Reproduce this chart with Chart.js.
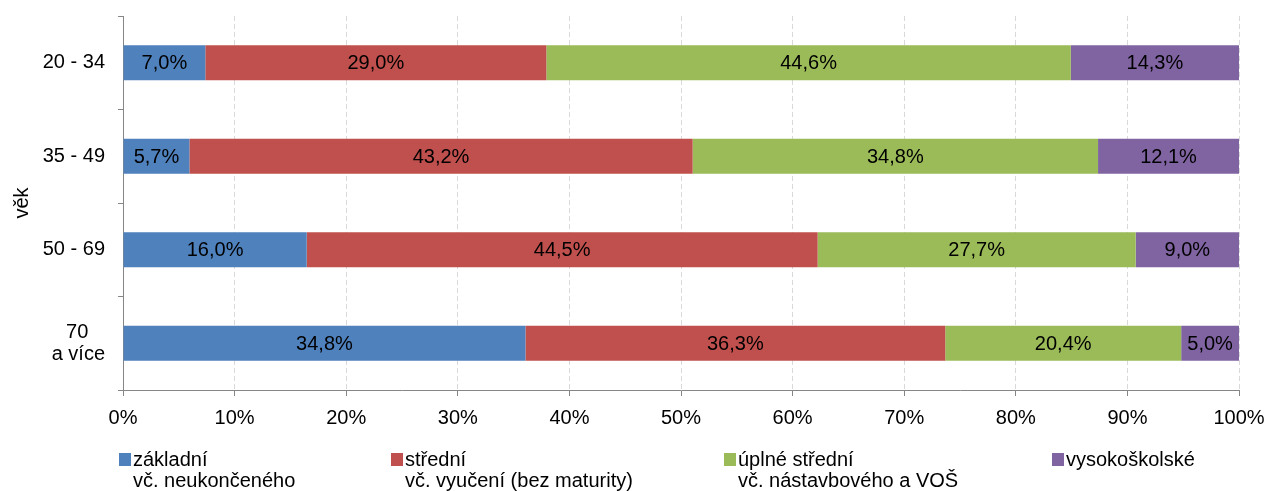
<!DOCTYPE html>
<html>
<head>
<meta charset="utf-8">
<script src="https://cdn.jsdelivr.net/npm/chart.js@4.4.1/dist/chart.umd.min.js"></script>
<style>
    html, body { margin: 0; padding: 0; background: #fff; }
    .wrap { width: 1268px; height: 491px; }
</style>
</head>
<body>
<div class="wrap"><canvas id="eduChart" width="1268" height="491"></canvas></div>
<script>
// age groups (the last label is two lines, padded so "70" sits centred over "a více")
const ages = ['20 - 34', '35 - 49', '50 - 69', ['70\u00a0\u00a0\u00a0', 'a více']];

// shares as printed on the bars (%)
const zakladni = [7.0, 5.7, 16.0, 34.8];
const stredni = [29.0, 43.2, 44.5, 36.3];
const uplneStredni = [44.6, 34.8, 27.7, 20.4];
const vysokoskolske = [14.3, 12.1, 9.0, 5.0];

const seriesNames = [
    ['základní', 'vč. neukončeného'],
    ['střední', 'vč. vyučení (bez maturity)'],
    ['úplné střední', 'vč. nástavbového a VOŠ'],
    ['vysokoškolské']
];
const seriesColors = ['#4F81BD', '#C0504D', '#9BBB59', '#8064A2'];

const xTicks = [0, 10, 20, 30, 40, 50, 60, 70, 80, 90, 100];

const FONT = 'Liberation Sans, Arial, sans-serif';
const raw = [zakladni, stredni, uplneStredni, vysokoskolske];

// 100 % stacked: each bar is scaled to the total of its row
const totals = ages.map((_, i) => raw.reduce((s, arr) => s + arr[i], 0));
const shares = raw.map(arr => arr.map((v, i) => v / totals[i] * 100));

const fmt = v => v.toFixed(1).replace('.', ',') + '%';

const barLabels = {
    id: 'barLabels',
    afterDatasetsDraw(chart) {
        const ctx = chart.ctx;
        ctx.save();
        ctx.font = '20px ' + FONT;
        ctx.fillStyle = '#000';
        ctx.textAlign = 'center';
        ctx.textBaseline = 'middle';
        chart.data.datasets.forEach((ds, di) => {
            chart.getDatasetMeta(di).data.forEach((bar, i) => {
                ctx.fillText(fmt(raw[di][i]), (bar.x + bar.base) / 2, bar.y + 1);
            });
        });
        ctx.restore();
    }
};

// legend with two-line labels, Excel style
const legendBelow = {
    id: 'legendBelow',
    afterDraw(chart, args, opts) {
        const ctx = chart.ctx;
        ctx.save();
        ctx.font = '20px ' + FONT;
        ctx.textBaseline = 'alphabetic';
        ctx.textAlign = 'left';
        opts.x.forEach((x, i) => {
            ctx.fillStyle = seriesColors[i];
            ctx.fillRect(x, opts.y, 12, 13);
            ctx.fillStyle = '#000';
            seriesNames[i].forEach((line, li) => {
                ctx.fillText(line, x + 14, opts.y + 13 + li * 21);
            });
        });
        ctx.restore();
    }
};

new Chart(document.getElementById('eduChart'), {
    type: 'bar',
    data: {
        labels: ages,
        datasets: shares.map((data, i) => ({
            label: seriesNames[i].join(' '),
            data: data,
            backgroundColor: seriesColors[i],
            borderWidth: 0,
            barPercentage: 0.375,
            categoryPercentage: 1
        }))
    },
    options: {
        indexAxis: 'y',
        responsive: false,
        animation: false,
        layout: { padding: { top: 16, right: 29, left: 0, bottom: 61 } },
        plugins: {
            legend: { display: false },
            tooltip: { enabled: false },
            legendBelow: { x: [119, 391, 724, 1052], y: 453 }
        },
        scales: {
            x: {
                stacked: true,
                min: 0,
                max: 100,
                afterBuildTicks: s => { s.ticks = xTicks.map(v => ({ value: v })); },
                afterFit: s => { s.height = 40; s.paddingLeft = 0; s.paddingRight = 0; },
                grid: {
                    color: c => c.index === 0 ? 'rgba(0,0,0,0)' : '#D9D9D9',
                    tickColor: '#868686',
                    tickLength: 6
                },
                border: { color: '#868686', width: 1, dash: [5, 3] },
                ticks: {
                    color: '#000',
                    font: { family: FONT, size: 20 },
                    padding: 10,
                    callback: v => v + '%'
                }
            },
            y: {
                stacked: true,
                afterFit: s => { s.width = 123; s.paddingTop = 0; s.paddingBottom = 0; },
                grid: {
                    drawOnChartArea: false,
                    offset: true,
                    tickColor: '#868686',
                    tickLength: 5
                },
                border: { color: '#868686', width: 1 },
                ticks: {
                    color: '#000',
                    font: { family: FONT, size: 20, lineHeight: 1.1 },
                    padding: 13
                },
                title: {
                    display: true,
                    text: 'věk',
                    color: '#000',
                    font: { family: FONT, size: 20 },
                    padding: { top: 10, bottom: 0 }
                }
            }
        }
    },
    plugins: [barLabels, legendBelow]
});
</script>
</body>
</html>
